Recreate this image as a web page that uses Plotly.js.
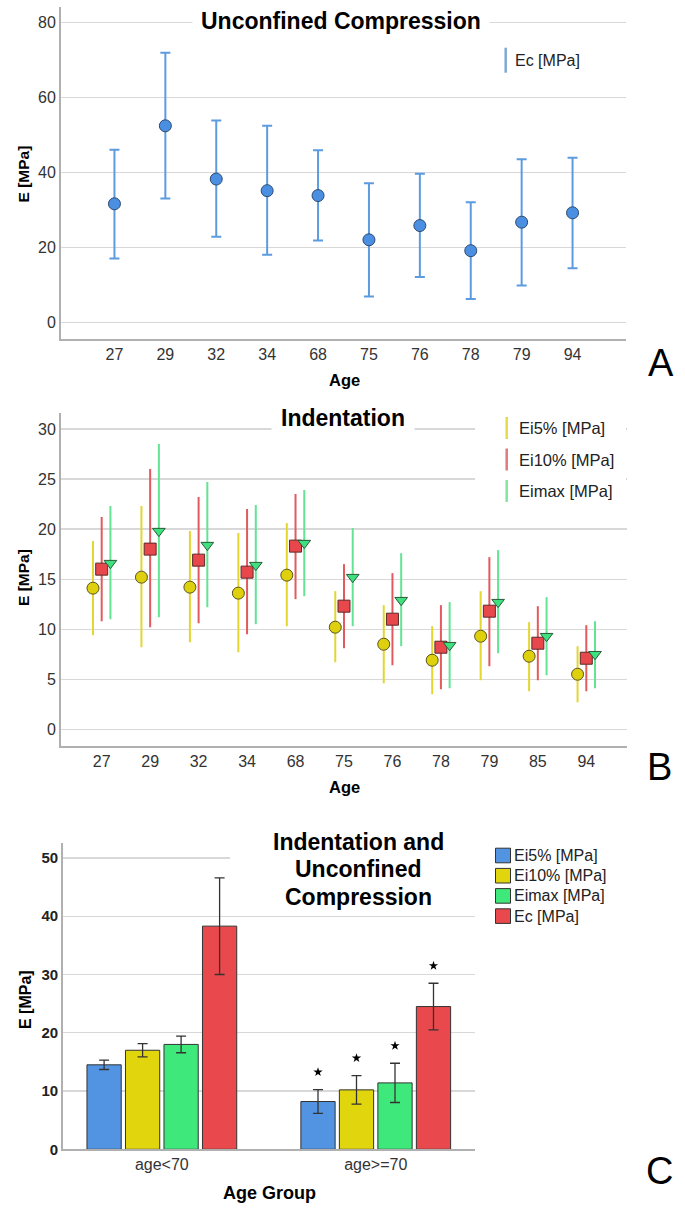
<!DOCTYPE html>
<html>
<head>
<meta charset="utf-8">
<script src="https://cdn.plot.ly/plotly-3.0.1.min.js"></script>
<style>html,body{margin:0;padding:0;background:#fff;}#chart{width:685px;height:1215px;}</style>
</head>
<body>
<div id="chart"></div>
<script>
// ---------- Panel A: Unconfined Compression ----------
const agesA = ['27','29','32','34','68','75','76','78','79','94'];
const ecMean  = [31.6, 52.4, 38.2, 35.1, 33.8, 22.0, 25.8, 19.1, 26.7, 29.2];
const ecUpper = [46.0, 71.9, 53.8, 52.4, 45.9, 37.1, 39.6, 32.0, 43.5, 43.9];
const ecLower = [17.0, 33.0, 22.8, 18.0, 21.8,  6.9, 12.1,  6.2,  9.8, 14.4];

// ---------- Panel B: Indentation ----------
const agesB = ['27','29','32','34','68','75','76','78','79','85','94'];
const ei5Mean   = [14.1, 15.2, 14.2, 13.6, 15.4, 10.2,  8.5,  6.9,  9.3,  7.3,  5.5];
const ei5Upper  = [18.8, 22.3, 19.8, 19.6, 20.6, 13.8, 12.4, 10.3, 13.8, 10.7,  8.3];
const ei5Lower  = [ 9.4,  8.2,  8.7,  7.7, 10.3,  6.7,  4.6,  3.5,  4.9,  3.8,  2.7];
const ei10Mean  = [16.0, 18.0, 16.9, 15.7, 18.3, 12.3, 11.0,  8.2, 11.8,  8.6,  7.1];
const ei10Upper = [21.2, 26.0, 23.2, 22.0, 23.5, 16.5, 15.6, 12.4, 17.2, 12.3, 10.4];
const ei10Lower = [10.8, 10.2, 10.6,  9.5, 13.0,  8.1,  6.4,  4.0,  6.3,  4.9,  3.8];
const eimaxMean  = [16.6, 19.8, 18.4, 16.4, 18.6, 15.2, 12.9,  8.4, 12.7,  9.3,  7.5];
const eimaxUpper = [22.3, 28.5, 24.7, 22.4, 23.9, 20.1, 17.6, 12.7, 17.9, 13.2, 10.8];
const eimaxLower = [11.0, 11.2, 12.2, 10.5, 13.3, 10.3,  8.3,  4.1,  7.6,  5.4,  4.1];

// ---------- Panel C: Indentation and Unconfined Compression ----------
const groupsC = ['age<70', 'age>=70'];
const seriesC = ['Ei5% [MPa]', 'Ei10% [MPa]', 'Eimax [MPa]', 'Ec [MPa]'];
const cEi5Mean   = [14.5,  8.2];  const cEi5Err   = [0.8, 2.05];
const cEi10Mean  = [17.0, 10.2];  const cEi10Err  = [1.15, 2.45];
const cEimaxMean = [18.0, 11.4];  const cEimaxErr = [1.43, 3.37];
const cEcMean    = [38.3, 24.5];  const cEcErr    = [8.3, 4.0];
const cSignificant = [[0,1],[0,1],[0,1],[0,1]];   // star marks (age>=70 vs age<70)

// ---------- helpers ----------
const W = 685, H = 1215;
const px = x => x / W;
const py = y => 1 - y / H;
const FONT = 'Liberation Sans, Arial, sans-serif';
const idx = a => a.map((_, i) => i);
const up = (u, m) => u.map((v, i) => v - m[i]);
const dn = (l, m) => m.map((v, i) => v - l[i]);

const traces = [];

// A
traces.push({
  type: 'scatter', mode: 'markers', xaxis: 'x', yaxis: 'y', showlegend: false,
  x: idx(agesA), y: ecMean,
  marker: {symbol: 'circle', size: 12, color: '#4a8fe2', line: {color: '#2c4a70', width: 1}},
  error_y: {type: 'data', symmetric: false, array: up(ecUpper, ecMean), arrayminus: dn(ecLower, ecMean),
            color: '#5d9be0', thickness: 2, width: 5}
});

// B
const bOff = 0.18;
const bSeries = [
  {m: ei5Mean, u: ei5Upper, l: ei5Lower, off: -bOff, sym: 'circle', size: 12, fill: '#ded00c', err: '#e3d630', line: '#5a5420'},
  {m: ei10Mean, u: ei10Upper, l: ei10Lower, off: 0, sym: 'square', size: 12, fill: '#e8474b', err: '#e35a5e', line: '#5a2a2a'},
  {m: eimaxMean, u: eimaxUpper, l: eimaxLower, off: bOff, sym: 'triangle-down', size: 11, fill: '#3fe07e', err: '#62e493', line: '#2a5a3a'}
];
bSeries.forEach(s => {
  traces.push({
    type: 'scatter', mode: 'markers', xaxis: 'x2', yaxis: 'y2', showlegend: false,
    x: idx(agesB).map(i => i + s.off), y: s.m,
    marker: {symbol: s.sym, size: s.size, color: s.fill, line: {color: s.line, width: 1}},
    error_y: {type: 'data', symmetric: false, array: up(s.u, s.m), arrayminus: dn(s.l, s.m),
              color: s.err, thickness: 2, width: 0}
  });
});

// C
const cColors = ['#5294e2', '#e1d50e', '#3ee87a', '#e9484c'];
const cMeans = [cEi5Mean, cEi10Mean, cEimaxMean, cEcMean];
const cErrs = [cEi5Err, cEi10Err, cEimaxErr, cEcErr];
const bargap = 0.28;
cMeans.forEach((m, s) => {
  traces.push({
    type: 'bar', xaxis: 'x3', yaxis: 'y3', showlegend: false, name: seriesC[s],
    x: idx(groupsC), y: m,
    marker: {color: cColors[s], line: {color: '#333', width: 1}},
    error_y: {type: 'data', array: cErrs[s], color: '#333', thickness: 1.3, width: 5}
  });
});
const slot = (1 - bargap) / 4;
const starX = [], starY = [];
cSignificant.forEach((flags, s) => {
  flags.forEach((f, g) => {
    if (f) { starX.push(g + (s - 1.5) * slot); starY.push(cMeans[s][g] + cErrs[s][g] + 3); }
  });
});
traces.push({
  type: 'scatter', mode: 'markers', xaxis: 'x3', yaxis: 'y3', showlegend: false,
  x: starX, y: starY, marker: {symbol: 'star', size: 7, color: '#000'}
});

// ---------- axes ----------
const gridC = '#d8d8d8', lineC = '#b0b0b0';
const tickF = {family: FONT, size: 16, color: '#333'};
function xa(domain, range, labels, anchor) {
  return {domain, range, anchor, tickmode: 'array', tickvals: idx(labels), ticktext: labels,
    showgrid: false, zeroline: false, showline: true, linecolor: lineC, linewidth: 1.5,
    ticks: '', tickfont: tickF, fixedrange: true};
}
function ya(domain, range, dtick, anchor, font) {
  return {domain, range, anchor, tick0: 0, dtick, showgrid: true, gridcolor: gridC, gridwidth: 1.3,
    zeroline: false, showline: true, linecolor: lineC, linewidth: 1.5, ticks: '',
    tickfont: font || tickF, fixedrange: true};
}

const layout = {
  width: W, height: H, margin: {l: 0, r: 0, t: 0, b: 0},
  paper_bgcolor: '#fff', plot_bgcolor: '#fff', showlegend: false,
  barmode: 'group', bargap: bargap, bargroupgap: 0.11,
  font: {family: FONT},
  xaxis:  xa([px(60.5), px(626)], [-1.06, 10.05], agesA, 'y'),
  yaxis:  ya([py(339), py(6.7)], [-4.45, 84.16], 20, 'x'),
  xaxis2: xa([px(60.5), px(627)], [-0.85, 10.84], agesB, 'y2'),
  yaxis2: ya([py(746), py(412.7)], [-1.67, 31.63], 5, 'x2'),
  xaxis3: xa([px(62.6), px(475)], [-0.464, 1.464], groupsC, 'y3'),
  yaxis3: ya([py(1149.3), py(843)], [0, 52.57], 10, 'x3', {family: FONT, size: 15, color: '#222', weight: 'bold'}),
  shapes: [],
  annotations: []
};

const S = layout.shapes, A = layout.annotations;
function txt(text, x, y, size, opts) {
  A.push(Object.assign({text, xref: 'paper', yref: 'paper', x: px(x), y: py(y), showarrow: false,
    xanchor: 'center', yanchor: 'middle', font: {family: FONT, size, color: '#111'}}, opts || {}));
}
function rect(x0, y0, x1, y1, fill, line) {
  S.push({type: 'rect', xref: 'paper', yref: 'paper', x0: px(x0), x1: px(x1), y0: py(y0), y1: py(y1),
    fillcolor: fill, line: line ? {color: line, width: 1} : {width: 0}, layer: 'above'});
}
function vline(x, y0, y1, color) {
  S.push({type: 'line', xref: 'paper', yref: 'paper', x0: px(x), x1: px(x), y0: py(y0), y1: py(y1),
    line: {color, width: 2.5}, layer: 'above'});
}

// Titles
txt('<b>Unconfined Compression</b>', 341, 20.7, 23, {bgcolor: '#fff', borderpad: 8, font: {family: FONT, size: 23, color: '#000'}});
txt('<b>Indentation</b>', 343, 418, 23, {bgcolor: '#fff', borderpad: 9, font: {family: FONT, size: 23, color: '#000'}});
rect(230, 851, 478, 865, '#fff');
txt('<b>Indentation and</b>', 358, 842, 23, {font: {family: FONT, size: 23, color: '#000'}});
txt('<b>Unconfined</b>', 358, 869, 23, {font: {family: FONT, size: 23, color: '#000'}});
txt('<b>Compression</b>', 358, 897, 23, {font: {family: FONT, size: 23, color: '#000'}});

// Axis titles
const bold = (s) => ({family: FONT, size: s, color: '#000'});
txt('<b>E [MPa]</b>', 23, 174.5, 15.5, {textangle: -90, font: bold(15.5)});
txt('<b>Age</b>', 344, 380, 16.5, {font: bold(16.5)});
txt('<b>E [MPa]</b>', 24, 578, 15.5, {textangle: -90, font: bold(15.5)});
txt('<b>Age</b>', 344, 787, 16.5, {font: bold(16.5)});
txt('<b>E [MPa]</b>', 25, 999, 16, {textangle: -90, font: bold(16)});
txt('<b>Age Group</b>', 269, 1193, 18, {font: bold(18)});

// Panel letters
txt('A', 661, 363, 38, {font: {family: FONT, size: 38, color: '#000'}});
txt('B', 659, 767, 38, {font: {family: FONT, size: 38, color: '#000'}});
txt('C', 659, 1171, 38, {font: {family: FONT, size: 38, color: '#000'}});

// Legend A
vline(505.7, 47.7, 72.7, '#7fa9d3');
txt('Ec [MPa]', 513, 60.7, 16, {xanchor: 'left', font: {family: FONT, size: 16, color: '#222'}});

// Legend B
rect(475, 398, 626, 510, '#fff');
const bLeg = ['Ei5% [MPa]', 'Ei10% [MPa]', 'Eimax [MPa]'];
const bLegC = ['#e6da48', '#e07a7c', '#7ee8a2'];
const bLegY = [428, 459.5, 491];
bLeg.forEach((t, i) => {
  vline(506.7, bLegY[i] - 11, bLegY[i] + 11, bLegC[i]);
  txt(t, 516.7, bLegY[i], 16.5, {xanchor: 'left', font: {family: FONT, size: 16.5, color: '#222'}});
});

// Legend C
seriesC.forEach((t, i) => {
  const yc = 855.5 + i * 20.2;
  rect(495.5, yc - 7.3, 510.5, yc + 7.3, cColors[i], '#333');
  txt(t, 512, yc, 16, {xanchor: 'left', font: {family: FONT, size: 16, color: '#222'}});
});

Plotly.newPlot('chart', traces, layout, {displayModeBar: false, staticPlot: true});
</script>
</body>
</html>
